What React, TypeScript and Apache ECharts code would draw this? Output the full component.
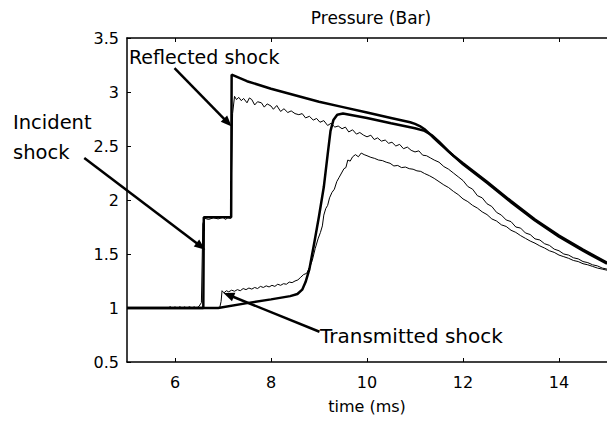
import React, { useEffect, useRef } from 'react';
import * as echarts from 'echarts';

const FONT = '"DejaVu Sans", "Liberation Sans", sans-serif';

const xTickValues = [6, 8, 10, 12, 14];

// Simulation: incident + reflected shock (thick)
const simReflected: [number, number][] = [
  [5, 1.0], [6.59, 1.0], [6.6, 1.84], [7.17, 1.84], [7.18, 3.16], [7.5, 3.1], [8, 3.03],
  [8.5, 2.97], [9, 2.91], [9.5, 2.86], [10, 2.81], [10.5, 2.76], [10.9, 2.72], [11.0, 2.705],
  [11.1, 2.685], [11.2, 2.655], [11.3, 2.615], [11.4, 2.57], [11.5, 2.53], [11.6, 2.49],
  [11.8, 2.41], [12, 2.34], [12.5, 2.17], [13, 1.99], [13.5, 1.82], [14, 1.67], [14.5, 1.54], [15, 1.42],
];

// Simulation: transmitted shock (thick)
const simTransmitted: [number, number][] = [
  [5, 1.0], [6.9, 1.0], [7.5, 1.045], [8, 1.08], [8.4, 1.11], [8.55, 1.13], [8.65, 1.17],
  [8.72, 1.24], [8.8, 1.36], [8.9, 1.6], [9.0, 1.85], [9.1, 2.12], [9.18, 2.42], [9.24, 2.64],
  [9.3, 2.74], [9.38, 2.79], [9.5, 2.8], [10, 2.76], [10.5, 2.71], [11, 2.665], [11.2, 2.64],
  [11.35, 2.6], [11.5, 2.54], [11.7, 2.45], [12, 2.33], [12.5, 2.16], [13, 1.98], [13.5, 1.81],
  [14, 1.66], [14.5, 1.53], [15, 1.41],
];

// Experiment: incident + reflected (thin, noisy)
const expReflected: [number, number][] = [
  [5, 1.0], [5.85, 1.0], [5.9, 1.012], [5.95, 0.998], [6.0, 1.01], [6.05, 0.997], [6.1, 1.012],
  [6.15, 0.999], [6.2, 1.01], [6.25, 0.998], [6.3, 1.012], [6.35, 1.0], [6.4, 1.01], [6.45, 1.0],
  [6.5, 1.015], [6.55, 1.05], [6.58, 1.78], [6.62, 1.83], [6.7, 1.82], [6.8, 1.835], [6.9, 1.825],
  [7.0, 1.84], [7.05, 1.82], [7.1, 1.835], [7.16, 1.83], [7.2, 2.8], [7.24, 2.96], [7.28, 2.93],
  [7.33, 2.95], [7.38, 2.92], [7.43, 2.94], [7.5, 2.9], [7.55, 2.945], [7.6, 2.93], [7.66, 2.88],
  [7.72, 2.91], [7.8, 2.9], [7.86, 2.86], [7.92, 2.89], [8.0, 2.87], [8.05, 2.84], [8.12, 2.875],
  [8.2, 2.82], [8.27, 2.845], [8.35, 2.81], [8.42, 2.825], [8.5, 2.8], [8.58, 2.79], [8.65, 2.8],
  [8.72, 2.76], [8.8, 2.775], [8.88, 2.74], [8.95, 2.755], [9.02, 2.72], [9.1, 2.735], [9.18, 2.69],
  [9.25, 2.71], [9.33, 2.675], [9.4, 2.685], [9.48, 2.66], [9.55, 2.675], [9.62, 2.63], [9.7, 2.65],
  [9.78, 2.61], [9.85, 2.625], [9.93, 2.6], [10.0, 2.585], [10.08, 2.6], [10.15, 2.56], [10.22, 2.575],
  [10.3, 2.545], [10.38, 2.555], [10.45, 2.525], [10.52, 2.535], [10.6, 2.5], [10.68, 2.515],
  [10.76, 2.475], [10.84, 2.49], [10.92, 2.46], [11.0, 2.445], [11.08, 2.455], [11.16, 2.415],
  [11.24, 2.41], [11.32, 2.39], [11.4, 2.37], [11.5, 2.35], [11.6, 2.31], [11.7, 2.285],
  [11.8, 2.25], [11.9, 2.215], [12.0, 2.18], [12.1, 2.125], [12.2, 2.1], [12.3, 2.04], [12.4, 2.02],
  [12.5, 1.965], [12.6, 1.94], [12.7, 1.885], [12.8, 1.86], [12.9, 1.815], [13.0, 1.8], [13.1, 1.75],
  [13.2, 1.74], [13.3, 1.695], [13.4, 1.68], [13.5, 1.64], [13.6, 1.63], [13.7, 1.595], [13.8, 1.58],
  [13.9, 1.545], [14.0, 1.53], [14.1, 1.5], [14.2, 1.49], [14.3, 1.465], [14.4, 1.455], [14.5, 1.43],
  [14.6, 1.42], [14.7, 1.4], [14.8, 1.39], [14.9, 1.37], [15.0, 1.36],
];

// Experiment: transmitted (thin, noisy)
const expTransmitted: [number, number][] = [
  [5, 1.0], [6.93, 1.0], [6.96, 1.06], [6.98, 1.16], [7.02, 1.14], [7.07, 1.16], [7.12, 1.15],
  [7.18, 1.165], [7.24, 1.155], [7.3, 1.17], [7.36, 1.16], [7.42, 1.18], [7.48, 1.17], [7.54, 1.185],
  [7.6, 1.175], [7.66, 1.19], [7.72, 1.18], [7.78, 1.2], [7.84, 1.19], [7.9, 1.205], [7.96, 1.195],
  [8.02, 1.21], [8.08, 1.2], [8.14, 1.22], [8.2, 1.21], [8.26, 1.225], [8.32, 1.22], [8.38, 1.24],
  [8.44, 1.235], [8.5, 1.25], [8.56, 1.26], [8.62, 1.285], [8.68, 1.31], [8.74, 1.32], [8.8, 1.37],
  [8.86, 1.44], [8.92, 1.55], [8.98, 1.64], [9.03, 1.7], [9.07, 1.76], [9.1, 1.86], [9.14, 1.92],
  [9.18, 1.95], [9.22, 2.02], [9.27, 2.07], [9.32, 2.1], [9.37, 2.17], [9.42, 2.21], [9.47, 2.25],
  [9.52, 2.29], [9.56, 2.3], [9.6, 2.37], [9.65, 2.36], [9.7, 2.4], [9.76, 2.42], [9.82, 2.4],
  [9.88, 2.435], [9.94, 2.42], [10.0, 2.41], [10.08, 2.395], [10.16, 2.385], [10.24, 2.37],
  [10.32, 2.365], [10.4, 2.35], [10.48, 2.34], [10.56, 2.315], [10.64, 2.32], [10.72, 2.3],
  [10.8, 2.305], [10.88, 2.29], [10.96, 2.285], [11.04, 2.27], [11.12, 2.265], [11.2, 2.245],
  [11.3, 2.225], [11.4, 2.2], [11.5, 2.17], [11.6, 2.14], [11.7, 2.115], [11.8, 2.08], [11.9, 2.05],
  [12.0, 2.01], [12.1, 1.985], [12.2, 1.95], [12.3, 1.925], [12.4, 1.89], [12.5, 1.865],
  [12.6, 1.825], [12.7, 1.805], [12.8, 1.77], [12.9, 1.755], [13.0, 1.72], [13.1, 1.7],
  [13.2, 1.67], [13.3, 1.645], [13.4, 1.62], [13.5, 1.6], [13.6, 1.575], [13.7, 1.555], [13.8, 1.53],
  [13.9, 1.515], [14.0, 1.49], [14.1, 1.475], [14.2, 1.46], [14.3, 1.44], [14.4, 1.43], [14.5, 1.41],
  [14.6, 1.4], [14.7, 1.385], [14.8, 1.37], [14.9, 1.36], [15.0, 1.35],
];

// Annotation arrows in data coordinates: [from, to(tip)]
const arrowFrom: [number, number][] = [[5.99, 3.22], [4.11, 2.39], [9.01, 0.78]];
const arrowTo: [number, number][] = [[7.18, 2.68], [6.63, 1.54], [7.01, 1.14]];

export default function App() {
  const ref = useRef<HTMLDivElement>(null);

  useEffect(() => {
    if (!ref.current) return;
    const chart = echarts.init(ref.current, undefined, { renderer: 'svg' });
    const axisLabelStyle = { color: '#000', fontSize: 16, fontFamily: FONT };
    chart.setOption({
      animation: false,
      backgroundColor: '#fff',
      grid: { left: 127, top: 38, right: -9, bottom: 60, containLabel: false },
      xAxis: [
        {
          type: 'value', min: 5, max: 15, position: 'bottom',
          axisLine: { show: true, onZero: false, lineStyle: { color: '#000', width: 1.5 } },
          axisTick: { show: true, inside: true, length: 4, customValues: xTickValues, lineStyle: { color: '#000', width: 1 } },
          axisLabel: { ...axisLabelStyle, margin: 12, customValues: xTickValues },
          splitLine: { show: false },
          name: 'time (ms)', nameLocation: 'middle', nameGap: 36,
          nameTextStyle: { color: '#000', fontSize: 16, fontFamily: FONT },
        },
        {
          type: 'value', min: 5, max: 15, position: 'top',
          axisLine: { show: true, onZero: false, lineStyle: { color: '#000', width: 1.5 } },
          axisTick: { show: true, inside: true, length: 4, customValues: xTickValues, lineStyle: { color: '#000', width: 1 } },
          axisLabel: { show: false },
          splitLine: { show: false },
        },
      ],
      yAxis: {
        type: 'value', min: 0.5, max: 3.5, interval: 0.5,
        axisLine: { show: true, onZero: false, lineStyle: { color: '#000', width: 1.5 } },
        axisTick: { show: true, inside: true, length: 4, lineStyle: { color: '#000', width: 1 } },
        axisLabel: { ...axisLabelStyle, margin: 8, padding: [9, 0, 0, 0] },
        splitLine: { show: false },
      },
      series: [
        { type: 'line', data: expReflected, showSymbol: false, lineStyle: { color: '#000', width: 1 }, z: 2 },
        { type: 'line', data: expTransmitted, showSymbol: false, lineStyle: { color: '#000', width: 1 }, z: 2 },
        { type: 'line', data: simReflected, showSymbol: false, lineStyle: { color: '#000', width: 2.5 }, z: 3 },
        { type: 'line', data: simTransmitted, showSymbol: false, lineStyle: { color: '#000', width: 2.5 }, z: 3 },
      ],
    });

    const graphics: any[] = [];
    for (let i = 0; i < arrowFrom.length; i++) {
      const p0 = chart.convertToPixel({ gridIndex: 0 }, arrowFrom[i]) as number[];
      const p1 = chart.convertToPixel({ gridIndex: 0 }, arrowTo[i]) as number[];
      const dx = p1[0] - p0[0];
      const dy = p1[1] - p0[1];
      const len = Math.sqrt(dx * dx + dy * dy);
      const ux = dx / len, uy = dy / len;
      const L = 11, W = 4.5;
      const bx = p1[0] - ux * L, by = p1[1] - uy * L;
      graphics.push({
        type: 'line', z: 10,
        shape: { x1: p0[0], y1: p0[1], x2: bx + ux * 2, y2: by + uy * 2 },
        style: { stroke: '#000', lineWidth: 2.5 },
      });
      graphics.push({
        type: 'polygon', z: 10,
        shape: { points: [[p1[0], p1[1]], [bx - uy * W, by + ux * W], [bx + uy * W, by - ux * W]] },
        style: { fill: '#000' },
      });
    }
    const texts = [
      { t: 'Pressure (Bar)', x: 371, y: 18, s: 17, a: 'center' },
      { t: 'Reflected shock', x: 129, y: 57, s: 19, a: 'left' },
      { t: 'Incident', x: 13, y: 122, s: 19.5, a: 'left' },
      { t: 'shock', x: 13, y: 152, s: 19.5, a: 'left' },
      { t: 'Transmitted shock', x: 320, y: 336, s: 20, a: 'left' },
    ];
    texts.forEach((t) => {
      graphics.push({
        type: 'text', x: t.x, y: t.y, z: 11,
        style: {
          text: t.t, fill: '#000', fontSize: t.s, fontFamily: FONT,
          textAlign: t.a, textVerticalAlign: 'middle', align: t.a, verticalAlign: 'middle',
        },
      });
    });
    chart.setOption({ graphic: graphics });

    return () => chart.dispose();
  }, []);

  return (
    <div
      ref={ref}
      style={{ position: 'absolute', left: 0, top: 0, width: 607, height: 422, background: '#fff' }}
    />
  );
}
